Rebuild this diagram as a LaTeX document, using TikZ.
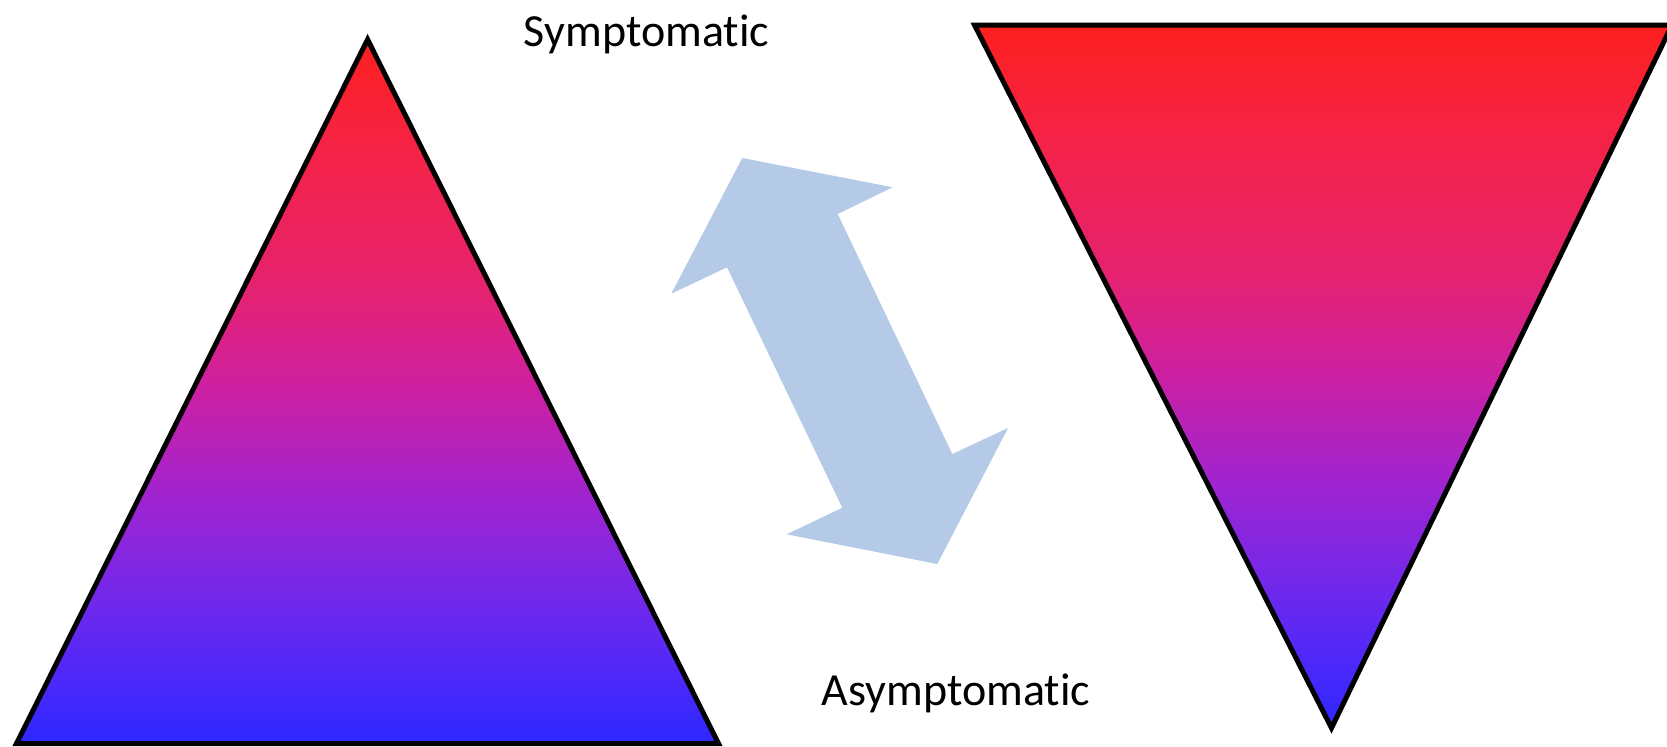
\documentclass[tikz,border=0pt]{standalone}
\usepackage{fontspec}
\setmainfont{Carlito}[RawFeature={-liga;-clig;-dlig}]
\definecolor{g0}{HTML}{FC201E}
\definecolor{g1}{HTML}{F52244}
\definecolor{g2}{HTML}{E6226F}
\definecolor{g3}{HTML}{CC20A3}
\definecolor{g4}{HTML}{A024D0}
\definecolor{g5}{HTML}{7028EC}
\definecolor{g6}{HTML}{4828FB}
\definecolor{g7}{HTML}{2D28FF}
\definecolor{arrowblue}{HTML}{B4CAE6}
\pgfdeclareverticalshading{redblue}{100bp}{color(0bp)=(g7); color(25bp)=(g7); color(29bp)=(g6); color(35bp)=(g5); color(42.5bp)=(g4); color(50bp)=(g3); color(57.5bp)=(g2); color(67.5bp)=(g1); color(75bp)=(g0); color(100bp)=(g0)}
\tikzset{
  tri/.style={draw=black, line width=2.5pt, line join=miter, shading=redblue},
  label/.style={font=\fontsize{23}{27}\selectfont, anchor=base, inner sep=0pt},
  bigarrow/.style={fill=arrowblue, draw=none}
}
\begin{document}
\begin{tikzpicture}[x=0.5pt, y=-0.5pt]
\useasboundingbox (0,0) rectangle (1667,746);
\clip (0,0) rectangle (1667,746);
% left triangle
\coordinate (LA) at (367.6,39.5);
\coordinate (LB) at (16.5,743.5);
\coordinate (LC) at (718.5,743.5);
\path[tri] (LA) -- (LC) -- (LB) -- cycle;
% right triangle
\coordinate (RA) at (974.5,25);
\coordinate (RB) at (1672,25);
\coordinate (RC) at (1331.5,728);
\path[tri] (RA) -- (RB) -- (RC) -- cycle;
% double arrow
\path[bigarrow] (742.3,158) -- (892.7,187.3) -- (837.7,214) -- (952.3,454)
  -- (1008,428) -- (937.3,564) -- (786.7,534.3) -- (842.3,507.7)
  -- (727,267.3) -- (671.3,293.7) -- cycle;
% labels
\node[label] (sym) at (646.5,46.7) {Symptomatic};
\node[label] (asym) at (956,705) {Asymptomatic};
\end{tikzpicture}
\end{document}
